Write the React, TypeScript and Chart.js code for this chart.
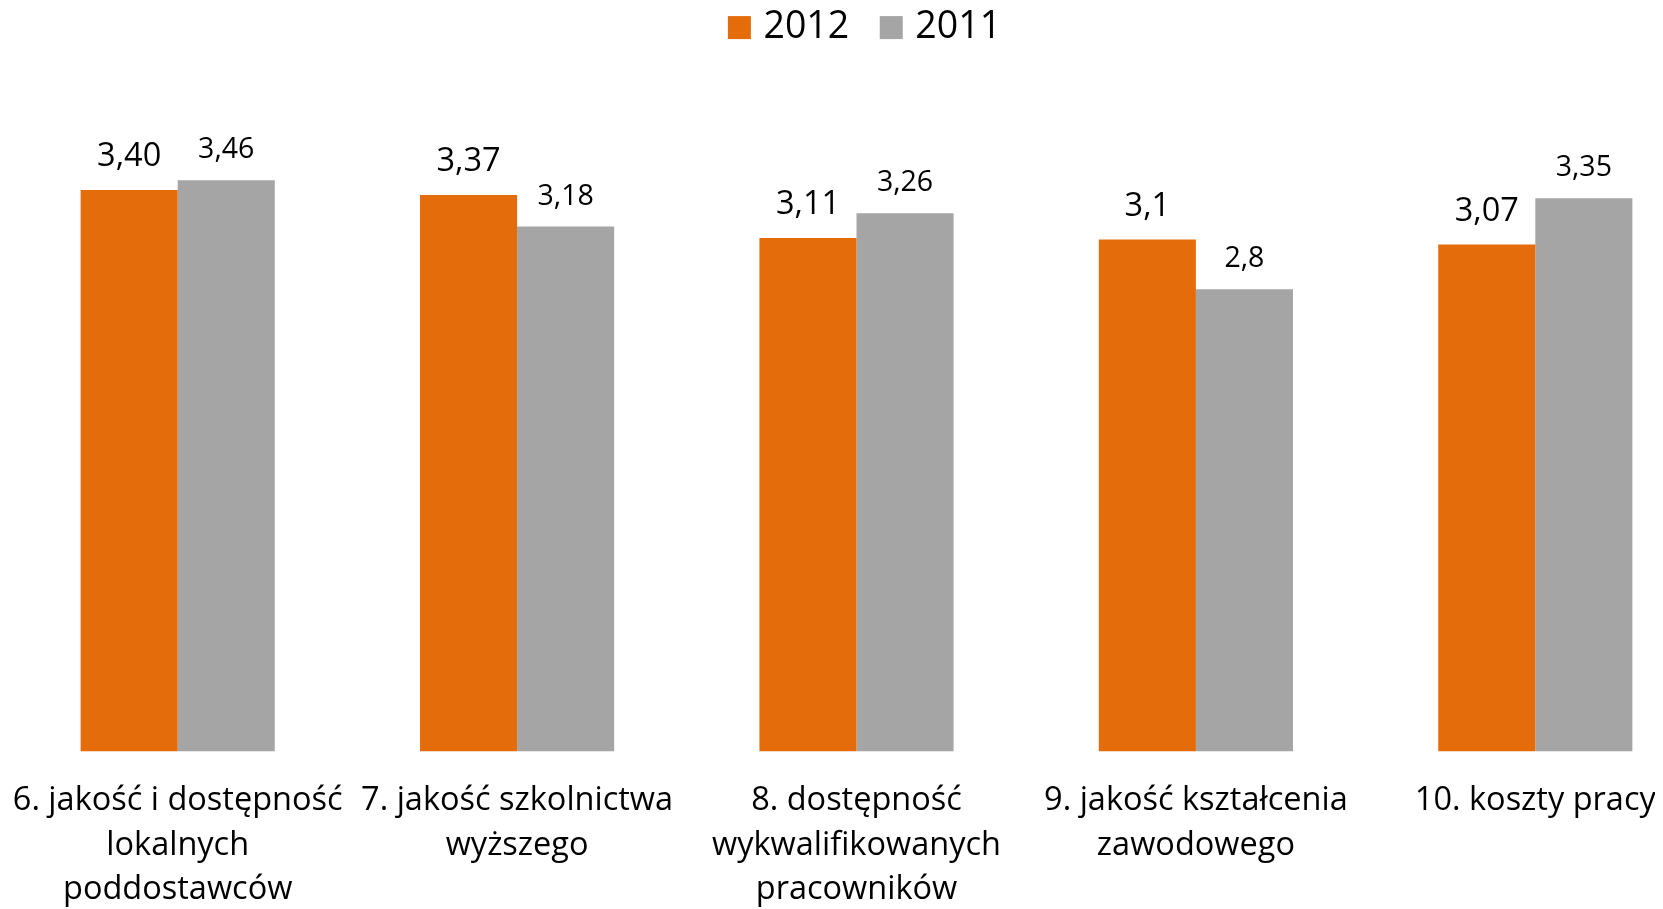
import React, { useEffect, useRef } from "react";
import { Chart, registerables } from "chart.js";

Chart.register(...registerables);

const categories: string[][] = [
  ["6. jakość i dostępność", "lokalnych", "poddostawców"],
  ["7. jakość szkolnictwa", "wyższego"],
  ["8. dostępność", "wykwalifikowanych", "pracowników"],
  ["9. jakość kształcenia", "zawodowego"],
  ["10. koszty pracy"],
];
const values2012: number[] = [3.4, 3.37, 3.11, 3.1, 3.07];
const values2011: number[] = [3.46, 3.18, 3.26, 2.8, 3.35];
const labels2012: string[] = ["3,40", "3,37", "3,11", "3,1", "3,07"];
const labels2011: string[] = ["3,46", "3,18", "3,26", "2,8", "3,35"];
const seriesNames: string[] = ["2012", "2011"];
const seriesColors: string[] = ["#E46C0A", "#A5A5A5"];

const FONT = "'Open Sans', 'Noto Sans', sans-serif";

const valueLabels = {
  id: "valueLabels",
  afterDatasetsDraw(chart: any) {
    const ctx = chart.ctx;
    const sets = [
      { labels: labels2012, size: 32.5, off: 33 },
      { labels: labels2011, size: 28.5, off: 30 },
    ];
    chart.data.datasets.forEach((_ds: any, di: number) => {
      const meta = chart.getDatasetMeta(di);
      const cfg = sets[di];
      meta.data.forEach((bar: any, i: number) => {
        ctx.save();
        ctx.font = `${cfg.size}px ${FONT}`;
        ctx.fillStyle = "#000000";
        ctx.textAlign = "center";
        ctx.textBaseline = "middle";
        ctx.fillText(cfg.labels[i], bar.x, bar.y - cfg.off);
        ctx.restore();
      });
    });
  },
};

const topLegend = {
  id: "topLegend",
  afterDraw(chart: any) {
    const ctx = chart.ctx;
    const box = 23;
    const gapText = 12.6;
    const gapItem = 30.5;
    const size = 37.5;
    const cy = 19.6;
    ctx.save();
    ctx.font = `${size}px ${FONT}`;
    const items = chart.data.datasets.map((ds: any) => ({
      text: ds.label as string,
      color: ds.backgroundColor as string,
      w: ctx.measureText(ds.label).width,
    }));
    const total =
      items.reduce((s: number, it: any) => s + box + gapText + it.w, 0) +
      gapItem * (items.length - 1);
    let x = chart.width / 2 + 8 - total / 2;
    items.forEach((it: any) => {
      ctx.fillStyle = it.color;
      ctx.fillRect(x, cy - box / 2, box, box);
      ctx.fillStyle = "#000000";
      ctx.textAlign = "left";
      ctx.textBaseline = "middle";
      ctx.fillText(it.text, x + box + gapText, cy);
      x += box + gapText + it.w + gapItem;
    });
    ctx.restore();
  },
};

export default function App() {
  const ref = useRef<HTMLCanvasElement | null>(null);
  useEffect(() => {
    document.documentElement.style.overflow = "hidden";
    document.body.style.overflow = "hidden";
    if (!ref.current) return;
    const chart = new Chart(ref.current, {
      type: "bar",
      data: {
        labels: categories,
        datasets: [
          { label: seriesNames[0], data: values2012, backgroundColor: seriesColors[0] },
          { label: seriesNames[1], data: values2011, backgroundColor: seriesColors[1] },
        ],
      },
      options: {
        responsive: false,
        animation: false,
        events: [],
        layout: { padding: { left: 0, right: 0, top: 100, bottom: 0 } },
        datasets: {
          bar: { barPercentage: 1, categoryPercentage: 0.572 },
        },
        plugins: {
          legend: { display: false },
          tooltip: { enabled: false },
        },
        scales: {
          x: {
            grid: { display: false, drawTicks: false },
            border: { display: false },
            afterFit(axis: any) {
              axis.paddingLeft = 0;
              axis.paddingRight = 0;
            },
            ticks: {
              color: "#000000",
              autoSkip: false,
              maxRotation: 0,
              minRotation: 0,
              padding: 27,
              font: { family: FONT, size: 32.5, lineHeight: 44.5 / 32.5 },
            },
          },
          y: {
            display: false,
            min: 0,
            max: 3.897,
          },
        },
      },
      plugins: [valueLabels, topLegend],
    } as any);
    return () => chart.destroy();
  }, []);
  return (
    <div style={{ width: 1697, height: 931 }}>
      <canvas ref={ref} width={1697} height={931} style={{ display: "block" }} />
    </div>
  );
}
